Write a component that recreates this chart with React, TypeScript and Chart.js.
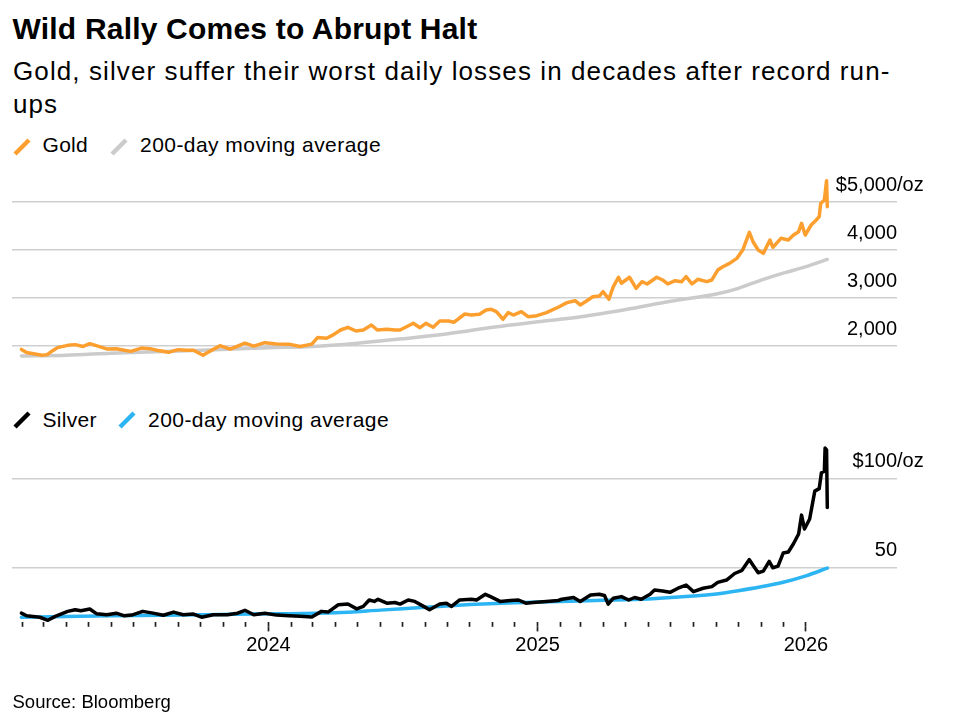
import React, { useEffect, useRef } from 'react';
import { Chart, registerables } from 'chart.js';

Chart.register(...registerables);

// ---------------- DATA ----------------
const GOLD_DATES = [
  '2023-01-30','2023-02-06','2023-02-27','2023-03-06','2023-03-14','2023-03-20','2023-04-03','2023-04-13','2023-04-24','2023-05-03',
  '2023-05-15','2023-05-26','2023-06-08','2023-06-19','2023-06-28','2023-07-12','2023-07-24','2023-08-02','2023-08-18','2023-08-31',
  '2023-09-12','2023-09-21','2023-10-04','2023-10-13','2023-10-27','2023-11-10','2023-11-30','2023-12-12','2023-12-27','2024-01-12',
  '2024-01-29','2024-02-13','2024-02-29','2024-03-08','2024-03-20','2024-03-29','2024-04-08','2024-04-18','2024-04-29','2024-05-09',
  '2024-05-20','2024-05-28','2024-06-10','2024-06-21','2024-06-28','2024-07-16','2024-07-25','2024-08-02','2024-08-12','2024-08-21',
  '2024-09-02','2024-09-09','2024-09-24','2024-10-03','2024-10-14','2024-10-23','2024-10-30','2024-11-06','2024-11-15','2024-11-22',
  '2024-11-29','2024-12-10','2024-12-19','2024-12-31','2025-01-13','2025-01-29','2025-02-10','2025-02-21','2025-02-28','2025-03-07',
  '2025-03-17','2025-03-26','2025-03-31','2025-04-08','2025-04-14','2025-04-21','2025-04-25','2025-05-06','2025-05-15','2025-05-23',
  '2025-05-30','2025-06-12','2025-06-20','2025-06-27','2025-07-07','2025-07-16','2025-07-22','2025-07-30','2025-08-07','2025-08-19',
  '2025-08-26','2025-09-03','2025-09-10','2025-09-19','2025-09-29','2025-10-07','2025-10-16','2025-10-21','2025-10-28','2025-11-04',
  '2025-11-13','2025-11-17','2025-11-28','2025-12-08','2025-12-15','2025-12-22','2025-12-26','2025-12-31','2026-01-08','2026-01-15',
  '2026-01-19','2026-01-21','2026-01-26','2026-01-29','2026-01-30',
];
const GOLD_VALUES = [
  1931,1866,1810,1822,1910,1968,2015,2030,1992,2050,
  1994,1940,1946,1912,1890,1958,1946,1912,1870,1925,
  1912,1912,1808,1890,2008,1935,2062,2000,2071,2045,
  2040,1990,2040,2180,2162,2232,2334,2390,2313,2334,
  2438,2334,2349,2334,2334,2473,2382,2473,2390,2521,
  2521,2494,2666,2645,2660,2749,2763,2715,2557,2694,
  2645,2715,2611,2632,2694,2806,2902,2943,2854,2922,
  3026,3040,3130,2972,3234,3430,3305,3430,3200,3338,
  3290,3430,3373,3290,3359,3338,3442,3290,3387,3338,
  3373,3580,3649,3718,3822,3995,4363,4168,3995,3926,
  4203,4052,4239,4203,4307,4376,4550,4307,4515,4619,
  4688,4960,5034,5435,4896,
];

const GOLD_MA_DATES = [
  '2023-01-30','2023-04-01','2023-06-01','2023-08-01','2023-10-01','2023-12-01','2024-01-01','2024-03-01','2024-05-01','2024-07-01',
  '2024-09-01','2024-11-01','2025-01-01','2025-03-01','2025-05-01','2025-07-01','2025-09-01','2025-10-01','2025-11-01','2025-12-01',
  '2026-01-01','2026-01-30',
];
const GOLD_MA_VALUES = [
  1794,1810,1850,1882,1915,1948,1965,1992,2060,2150,
  2255,2390,2505,2610,2760,2930,3080,3200,3370,3515,
  3650,3800,
];

const SILVER_DATES = [
  '2023-01-30','2023-02-06','2023-02-24','2023-03-07','2023-03-17','2023-04-03','2023-04-13','2023-04-21','2023-05-03','2023-05-12',
  '2023-05-26','2023-06-08','2023-06-19','2023-06-29','2023-07-14','2023-07-28','2023-08-11','2023-08-25','2023-09-07','2023-09-21',
  '2023-10-02','2023-10-18','2023-11-06','2023-11-20','2023-11-30','2023-12-12','2023-12-27','2024-01-12','2024-01-29','2024-02-13',
  '2024-02-29','2024-03-13','2024-03-22','2024-04-05','2024-04-18','2024-04-30','2024-05-09','2024-05-17','2024-05-24','2024-05-29',
  '2024-06-10','2024-06-21','2024-06-28','2024-07-09','2024-07-18','2024-07-30','2024-08-07','2024-08-21','2024-08-30','2024-09-06',
  '2024-09-17','2024-10-03','2024-10-10','2024-10-22','2024-10-29','2024-11-11','2024-11-25','2024-12-06','2024-12-16','2024-12-26',
  '2025-01-13','2025-01-29','2025-02-03','2025-02-19','2025-02-28','2025-03-14','2025-03-26','2025-04-02','2025-04-07','2025-04-14',
  '2025-04-25','2025-05-05','2025-05-13','2025-05-22','2025-06-03','2025-06-09','2025-06-20','2025-06-30','2025-07-11','2025-07-22',
  '2025-08-01','2025-08-14','2025-08-26','2025-09-03','2025-09-15','2025-09-26','2025-10-06','2025-10-16','2025-10-21','2025-10-28',
  '2025-11-04','2025-11-12','2025-11-17','2025-11-24','2025-12-01','2025-12-08','2025-12-15','2025-12-22','2025-12-26','2025-12-30',
  '2026-01-06','2026-01-13','2026-01-19','2026-01-22','2026-01-26','2026-01-27','2026-01-29','2026-01-30',
];
const SILVER_VALUES = [
  24.2,22.7,21.9,20.2,22.4,25.2,26.1,25.5,26.5,23.9,
  23.3,24.2,22.7,23.1,25.2,24.2,23.0,24.8,23.3,23.7,
  21.9,23.3,23.3,24.2,25.8,23.3,24.2,23.1,22.7,22.4,
  22.0,25.2,24.8,28.9,29.3,26.6,28.0,31.6,30.8,32.0,
  29.8,30.2,29.3,31.6,30.8,28.0,26.1,29.3,29.8,28.0,
  31.6,32.0,31.6,34.8,33.5,30.8,31.3,31.6,29.8,30.2,
  30.8,31.3,32.0,33.0,30.8,34.4,34.8,34.1,29.3,32.6,
  33.5,31.6,33.0,32.0,34.8,37.2,36.7,35.9,38.2,40.0,
  36.3,38.2,39.1,41.5,42.8,46.5,48.3,54.3,51.1,46.9,
  47.8,53.3,49.7,50.6,58.0,58.6,63.2,68.7,79.3,71.5,
  77.1,92.8,94.2,103.1,104.0,117.0,116.0,83.6,
];

const SILVER_MA_DATES = [
  '2023-01-30','2023-06-01','2023-10-01','2024-01-01','2024-04-01','2024-06-01','2024-08-01','2024-10-01','2024-12-01','2025-02-01',
  '2025-04-01','2025-06-01','2025-08-01','2025-09-01','2025-10-01','2025-11-01','2025-12-01','2026-01-01','2026-01-30',
];
const SILVER_MA_VALUES = [
  21.9,22.7,23.3,23.8,24.4,25.9,27.5,29.0,30.1,30.8,
  31.4,32.2,33.8,35.0,36.8,39.0,41.6,45.2,49.5,
];

const GOLD_TICKS = [2000, 3000, 4000, 5000];
const SILVER_TICKS = [50, 100];
const YEAR_TICK_DATES = ['2024-01-01', '2025-01-01', '2026-01-01'];
const YEAR_LABELS = ['2024', '2025', '2026'];
const UNIT_SUFFIX = '/oz';

// ---------------- STYLE / LAYOUT ----------------
const FONT = "'Liberation Sans', Arial, Helvetica, sans-serif";
const ORANGE = '#fd9f2f';
const GRAY = '#cbcbcb';
const BLUE = '#2cb5f2';
const GRID = '#cfcfcf';
const LABEL_OFFSET = -16.5;
const X_MIN = -348.8;
const X_MAX = 854.8;

const dayOf = (s: string) => {
  const [y, m, d] = s.split('-').map(Number);
  return (Date.UTC(y, m - 1, d) - Date.UTC(2024, 0, 1)) / 86400000;
};
const toPoints = (dates: string[], values: number[]) => dates.map((d, i) => ({ x: dayOf(d), y: values[i] }));

const monthTickDays = () => {
  const out: number[] = [];
  let y = 2023, m = 2;
  while (y < 2026 || (y === 2026 && m === 1)) {
    out.push((Date.UTC(y, m - 1, 1) - Date.UTC(2024, 0, 1)) / 86400000);
    m++;
    if (m > 12) { m = 1; y++; }
  }
  return out;
};

const fmt = (v: number) => v.toLocaleString('en-US');

const suffixPlugin = {
  id: 'unitSuffix',
  afterDraw(chart: any) {
    const s = chart.scales.y;
    const t = s.ticks[s.ticks.length - 1];
    const ctx = chart.ctx;
    ctx.save();
    ctx.font = `20px ${FONT}`;
    ctx.fillStyle = '#000';
    ctx.textAlign = 'left';
    ctx.textBaseline = 'middle';
    ctx.fillText(UNIT_SUFFIX, s.left, s.getPixelForValue(t.value) + LABEL_OFFSET);
    ctx.restore();
  },
};

const yAxis = (min: number, max: number, ticks: number[]) => ({
  type: 'linear',
  position: 'right',
  min,
  max,
  afterBuildTicks: (s: any) => { s.ticks = ticks.map((v) => ({ value: v })); },
  grid: { color: GRID, lineWidth: 1.5, drawTicks: false },
  border: { display: false },
  ticks: {
    mirror: true,
    padding: 0,
    labelOffset: LABEL_OFFSET,
    color: '#000',
    font: { size: 20, family: FONT },
    callback: (v: any, i: number, arr: any[]) => (i === arr.length - 1 ? '$' + fmt(Number(v)) : fmt(Number(v))),
  },
});

function GoldChart() {
  const ref = useRef<HTMLCanvasElement>(null);
  useEffect(() => {
    const chart = new Chart(ref.current as HTMLCanvasElement, {
      type: 'line',
      data: {
        datasets: [
          { label: 'Gold', data: toPoints(GOLD_DATES, GOLD_VALUES), borderColor: ORANGE, borderWidth: 3.5, pointRadius: 0, tension: 0, borderJoinStyle: 'round', borderCapStyle: 'round' },
          { label: '200-day moving average', data: toPoints(GOLD_MA_DATES, GOLD_MA_VALUES), borderColor: GRAY, borderWidth: 3.5, pointRadius: 0, cubicInterpolationMode: 'monotone', borderCapStyle: 'round' },
        ],
      } as any,
      options: {
        animation: false,
        responsive: true,
        maintainAspectRatio: false,
        events: [],
        layout: { padding: { left: 12, right: 61, top: 27.6, bottom: 21.9 } },
        plugins: { legend: { display: false }, tooltip: { enabled: false } },
        scales: {
          x: { type: 'linear', display: false, min: X_MIN, max: X_MAX },
          y: yAxis(1750, 5500, GOLD_TICKS),
        } as any,
      },
      plugins: [suffixPlugin],
    });
    return () => chart.destroy();
  }, []);
  return (
    <div style={{ position: 'absolute', left: 0, top: 150, width: 958, height: 230 }}>
      <canvas ref={ref} />
    </div>
  );
}

function SilverChart() {
  const ref = useRef<HTMLCanvasElement>(null);
  useEffect(() => {
    const months = monthTickDays();
    const years = YEAR_TICK_DATES.map(dayOf);
    const chart = new Chart(ref.current as HTMLCanvasElement, {
      type: 'line',
      data: {
        datasets: [
          { label: 'Silver', data: toPoints(SILVER_DATES, SILVER_VALUES), borderColor: '#000', borderWidth: 3.5, pointRadius: 0, tension: 0, borderJoinStyle: 'round', borderCapStyle: 'round' },
          { label: '200-day moving average', data: toPoints(SILVER_MA_DATES, SILVER_MA_VALUES), borderColor: BLUE, borderWidth: 3.5, pointRadius: 0, cubicInterpolationMode: 'monotone', borderCapStyle: 'round' },
        ],
      } as any,
      options: {
        animation: false,
        responsive: true,
        maintainAspectRatio: false,
        events: [],
        layout: { padding: { left: 12, right: 61, top: 33.85, bottom: 65.6 } },
        plugins: { legend: { display: false }, tooltip: { enabled: false } },
        scales: {
          x: {
            type: 'linear', position: 'bottom', weight: 0, min: X_MIN, max: X_MAX,
            afterBuildTicks: (s: any) => { s.ticks = months.map((v) => ({ value: v })); },
            grid: { drawOnChartArea: false, drawTicks: true, tickLength: 4.4, tickColor: '#222', tickWidth: 1.7 },
            border: { display: false },
            ticks: { display: false },
          },
          x2: {
            type: 'linear', position: 'bottom', weight: 1, min: X_MIN, max: X_MAX,
            afterBuildTicks: (s: any) => { s.ticks = years.map((v) => ({ value: v })); },
            grid: { drawOnChartArea: false, drawTicks: true, tickLength: 4.6, tickColor: '#222', tickWidth: 1.7 },
            border: { display: false },
            ticks: {
              padding: 2, color: '#000', autoSkip: false, maxRotation: 0,
              font: { size: 20, family: FONT },
              callback: (_v: any, i: number) => YEAR_LABELS[i],
            },
          },
          y: yAxis(19, 125, SILVER_TICKS),
        } as any,
      },
      plugins: [suffixPlugin],
    });
    return () => chart.destroy();
  }, []);
  return (
    <div style={{ position: 'absolute', left: 0, top: 400, width: 958, height: 325 }}>
      <canvas ref={ref} />
    </div>
  );
}

function Slash({ left, top, color }: { left: number; top: number; color: string }) {
  return (
    <svg width={18} height={18} style={{ position: 'absolute', left, top }}>
      <line x1={2} y1={16} x2={16} y2={2} stroke={color} strokeWidth={4.5} />
    </svg>
  );
}

const textBase: React.CSSProperties = { position: 'absolute', fontFamily: FONT, color: '#000', whiteSpace: 'nowrap', margin: 0 };

export default function App() {
  return (
    <div style={{ position: 'absolute', left: 0, top: 0, width: 958, height: 725, background: '#fff', overflow: 'hidden' }}>
      <div style={{ ...textBase, left: 12.5, top: 14, fontSize: 30, lineHeight: '30px', fontWeight: 700, letterSpacing: '0.2px' }}>
        Wild Rally Comes to Abrupt Halt
      </div>
      <div style={{ ...textBase, whiteSpace: 'normal', left: 13, top: 54.5, width: 905, fontSize: 26, lineHeight: '33px', letterSpacing: '1.1px' }}>
        Gold, silver suffer their worst daily losses in decades after record run-ups
      </div>

      <Slash left={12.5} top={138} color={ORANGE} />
      <div style={{ ...textBase, left: 42.5, top: 133.2, fontSize: 21, lineHeight: '24px', letterSpacing: '0.3px' }}>Gold</div>
      <Slash left={110} top={138} color={GRAY} />
      <div style={{ ...textBase, left: 140, top: 133.2, fontSize: 21, lineHeight: '24px', letterSpacing: '0.45px' }}>200-day moving average</div>

      <GoldChart />

      <Slash left={12.5} top={411} color={'#000'} />
      <div style={{ ...textBase, left: 42.5, top: 408.2, fontSize: 21, lineHeight: '24px', letterSpacing: '0.3px' }}>Silver</div>
      <Slash left={118} top={411} color={BLUE} />
      <div style={{ ...textBase, left: 148, top: 408.2, fontSize: 21, lineHeight: '24px', letterSpacing: '0.45px' }}>200-day moving average</div>

      <SilverChart />

      <div style={{ ...textBase, left: 12.5, top: 690.6, fontSize: 18.5, lineHeight: '22px' }}>Source: Bloomberg</div>
    </div>
  );
}
